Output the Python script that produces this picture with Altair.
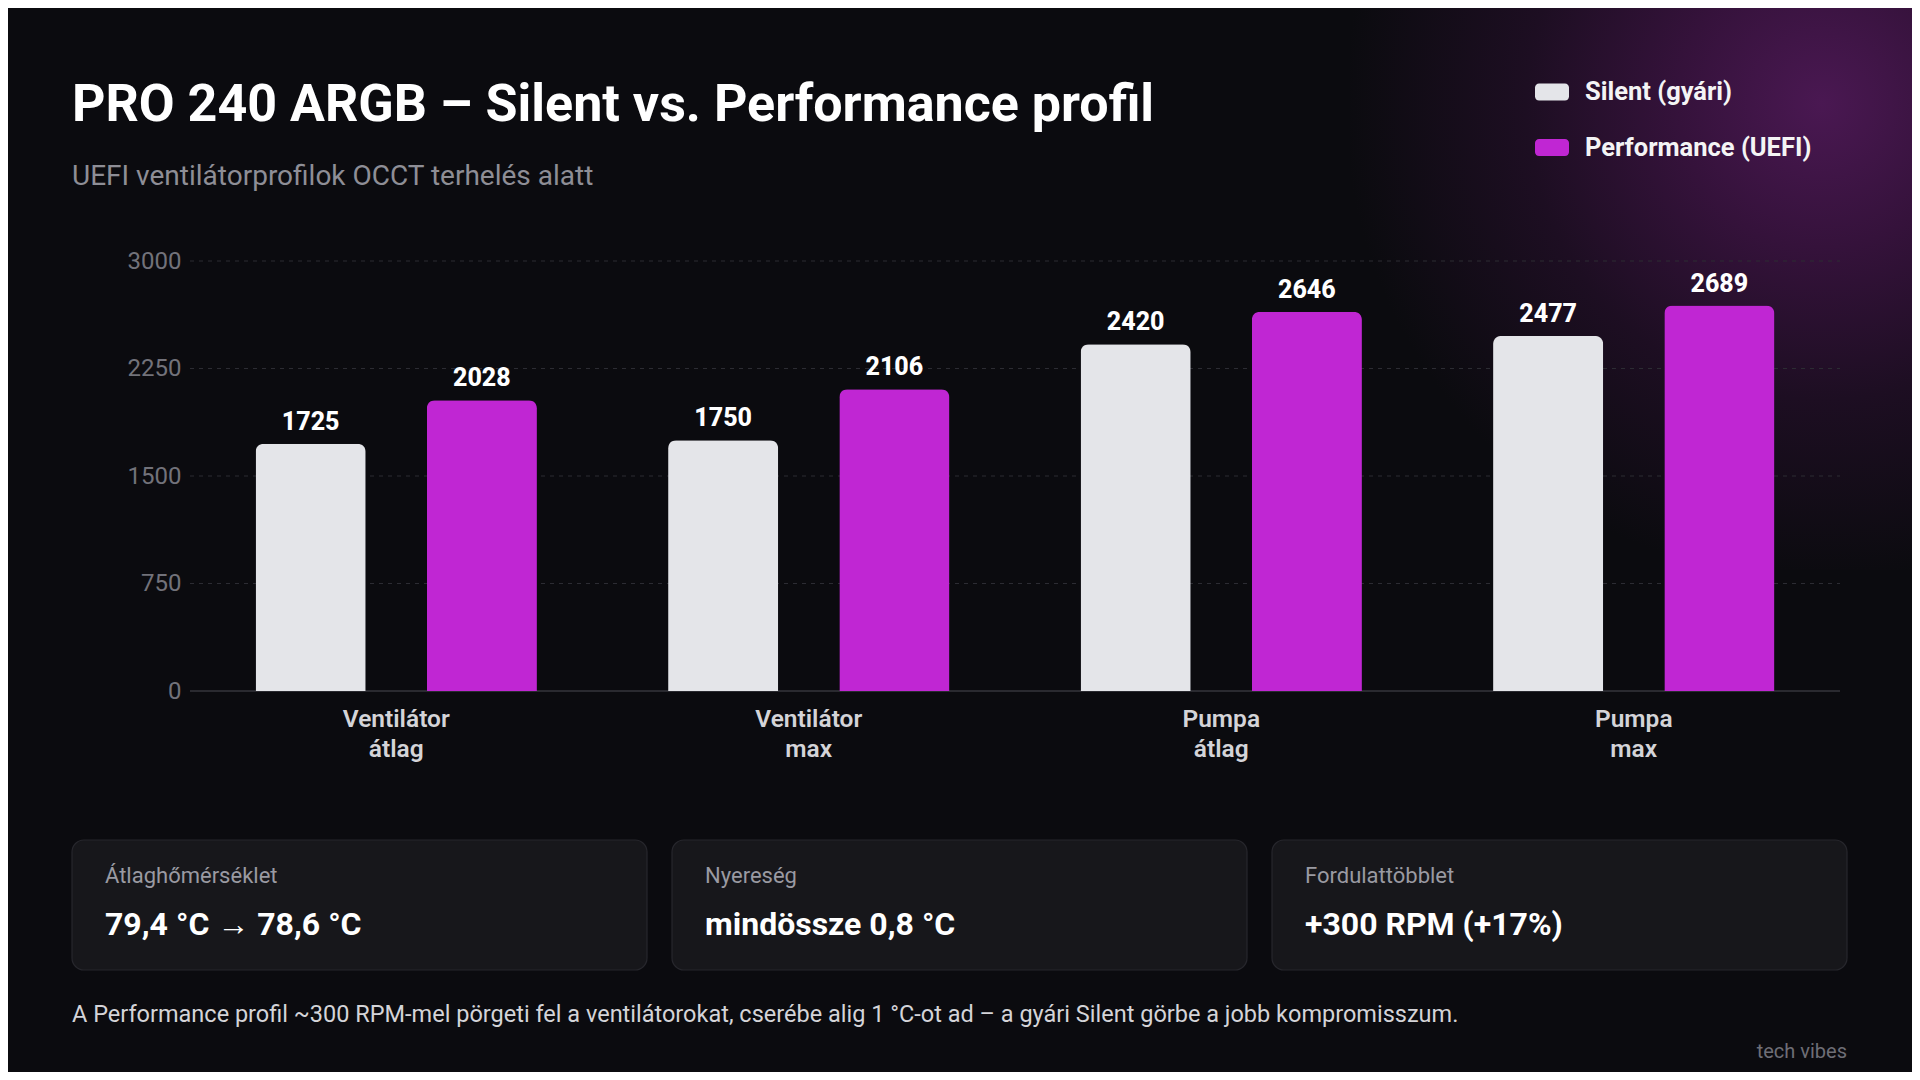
import altair as alt
import pandas as pd

# ---------------- data ----------------
categories = ["Ventilátor átlag", "Ventilátor max", "Pumpa átlag", "Pumpa max"]
series_names = ["Silent (gyári)", "Performance (UEFI)"]
silent_rpm = [1725, 1750, 2420, 2477]
performance_rpm = [2028, 2106, 2646, 2689]
y_ticks = [0, 750, 1500, 2250, 3000]
series_colors = ["#e4e5e9", "#c026d3"]

title_text = "PRO 240 ARGB – Silent vs. Performance profil"
subtitle_text = "UEFI ventilátorprofilok OCCT terhelés alatt"
card_labels = ["Átlaghőmérséklet", "Nyereség", "Fordulattöbblet"]
card_values = ["79,4 °C → 78,6 °C", "mindössze 0,8 °C", "+300 RPM (+17%)"]
footer_text = ("A Performance profil ~300 RPM-mel pörgeti fel a ventilátorokat, "
               "cserébe alig 1 °C-ot ad – a gyári Silent görbe a jobb kompromisszum.")
brand_text = "tech vibes"

rows = []
for c, s, p in zip(categories, silent_rpm, performance_rpm):
    rows.append({"cat": c, "series": series_names[0], "value": s})
    rows.append({"cat": c, "series": series_names[1], "value": p})
df = pd.DataFrame(rows)

# ---------------- layout ----------------
FONT = "Roboto"
BG = "#0b0b0f"
W, H = 1650, 430
OX, OY = 190, 261          # plot origin on the page (page has an 8px margin)


def sx(x):
    return x - OX


def sy(y):
    return y - OY


one = pd.DataFrame({"k": [0]})

y_axis = alt.Axis(values=y_ticks, format="d", labelFont=FONT,
                  labelFontSize=24, labelColor="#72727a", labelPadding=9,
                  ticks=False, domain=False, grid=False, title=None)
y_scale = alt.Scale(domain=[0, 3000], nice=False)


def y_enc(field):
    return alt.Y(field, type="quantitative", axis=y_axis, scale=y_scale,
                 title=None)


# purple glow in the top right corner
glow = alt.Chart(one).mark_rect(
    fill=alt.RadialGradient(
        gradient="radial",
        stops=[
            alt.GradientStop(offset=0, color="#4a1852"),
            alt.GradientStop(offset=0.3, color="#35123b"),
            alt.GradientStop(offset=0.62, color="#1d0e22"),
            alt.GradientStop(offset=1, color=BG),
        ],
        x1=0.84, y1=0.17, r1=0, x2=0.84, y2=0.17, r2=0.85,
    )
).encode(x=alt.value(sx(1350)), x2=alt.value(sx(1912)),
         y=alt.value(sy(8)), y2=alt.value(sy(570)))

grid = alt.Chart(pd.DataFrame({"value": y_ticks[1:]})).mark_rule(
    color="#2c2c33", strokeDash=[4, 5], strokeWidth=1
).encode(y=y_enc("value"), x=alt.value(0), x2=alt.value(W))

zero = alt.Chart(pd.DataFrame({"value": y_ticks[:1]})).mark_rule(
    color="#36363d", strokeWidth=1.5
).encode(y=y_enc("value"), x=alt.value(0), x2=alt.value(W))

x_enc = alt.X(
    "cat:N", sort=categories, title=None,
    scale=alt.Scale(paddingInner=0.318, paddingOuter=0.159),
    axis=alt.Axis(labelExpr="split(datum.label, ' ')", labelAngle=0,
                  labelFont=FONT, labelFontSize=24.5, labelFontWeight=600,
                  labelColor="#d4d4d8", labelLineHeight=30, labelPadding=16,
                  ticks=False, domain=False, grid=False),
)
xo_enc = alt.XOffset("series:N", sort=series_names,
                     scale=alt.Scale(paddingInner=0.357, paddingOuter=0))

legend_symbol = ("M-0.76,-0.5 H0.76 A0.24,0.24 0 0 1 1,-0.26 V0.26 "
                 "A0.24,0.24 0 0 1 0.76,0.5 H-0.76 A0.24,0.24 0 0 1 -1,0.26 "
                 "V-0.26 A0.24,0.24 0 0 1 -0.76,-0.5 Z")

bars = alt.Chart(df).mark_bar(
    cornerRadiusTopLeft=8, cornerRadiusTopRight=8
).encode(
    x=x_enc,
    xOffset=xo_enc,
    y=y_enc("value"),
    color=alt.Color(
        "series:N", sort=series_names,
        scale=alt.Scale(domain=series_names, range=series_colors),
        legend=alt.Legend(orient="none", legendX=1345, legendY=-186,
                          title=None, symbolType=legend_symbol,
                          symbolSize=1156, symbolStrokeWidth=0,
                          labelFont=FONT, labelFontSize=25.5,
                          labelFontWeight=700, labelColor="#f4f4f5",
                          labelLimit=500, labelOffset=16, rowPadding=24.5,
                          padding=0),
    ),
)

values_text = alt.Chart(df).mark_text(
    font=FONT, fontSize=25, fontWeight=800, color="#ffffff",
    baseline="alphabetic", dy=-14
).encode(
    x=x_enc, xOffset=xo_enc,
    y=y_enc("value"),
    text=alt.Text("value:Q", format="d"),
)


def label(txt, x, y, size, color, weight=400, align="left"):
    return alt.Chart(one).mark_text(
        text=txt, font=FONT, fontSize=size, fontWeight=weight, color=color,
        align=align, baseline="alphabetic"
    ).encode(x=alt.value(sx(x)), y=alt.value(sy(y)))


layers = [glow, grid, zero, bars, values_text,
          label(title_text, 72, 121, 52, "#ffffff", 700),
          label(subtitle_text, 72, 185, 28, "#8e8e96")]

card_left = [72, 672, 1272]
for cx, lab, val in zip(card_left, card_labels, card_values):
    layers.append(
        alt.Chart(one).mark_rect(cornerRadius=12, fill="#17171b",
                                 stroke="#27272d", strokeWidth=1.2)
        .encode(x=alt.value(sx(cx)), x2=alt.value(sx(cx + 575)),
                y=alt.value(sy(840)), y2=alt.value(sy(970)))
    )
    layers.append(label(lab, cx + 33, 883, 22, "#9a9aa2"))
    layers.append(label(val, cx + 33, 935, 32, "#ffffff", 700))

layers.append(label(footer_text, 72, 1022, 23.5, "#d4d4d8"))
layers.append(label(brand_text, 1847, 1058, 20, "#6e6e76", align="right"))

chart = alt.layer(*layers).properties(
    width=W, height=H,
    autosize=alt.AutoSizeParams(type="none"),
    padding={"left": OX - 8, "top": OY - 8,
             "right": 1904 - (OX - 8) - W, "bottom": 1064 - (OY - 8) - H},
    background=BG,
).configure(font=FONT).configure_view(stroke=None)

chart.save("out.html", embed_options={"renderer": "svg", "actions": False})
